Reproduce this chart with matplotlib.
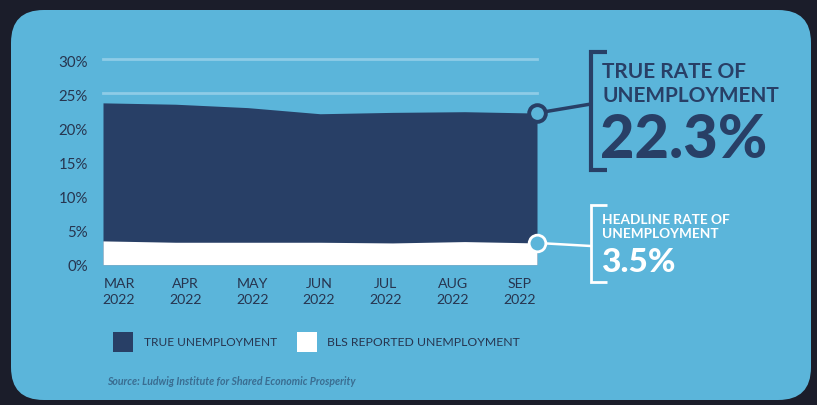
import numpy as np
import matplotlib.pyplot as plt
from matplotlib.patches import FancyBboxPatch, ConnectionPatch, Rectangle
from matplotlib.lines import Line2D

months = ['MAR', 'APR', 'MAY', 'JUN', 'JUL', 'AUG', 'SEP']
year = '2022'
true_rate = [23.8, 23.6, 23.1, 22.2, 22.4, 22.5, 22.3]
bls_rate = [3.5, 3.3, 3.3, 3.3, 3.2, 3.4, 3.2]
yticks = [0, 5, 10, 15, 20, 25, 30]
true_label = '22.3%'
bls_label = '3.5%'

W, H = 817, 406
bg = '#1b1d2a'
panel = '#5bb5da'
navy = '#283f66'
grid_c = '#8ecce7'
txt = '#27354f'

plt.rcParams['font.family'] = ['Lato', 'DejaVu Sans']

fig = plt.figure(figsize=(W / 100, H / 100), dpi=100)
fig.patch.set_facecolor(bg)


def fx(x):
    return x / W


def fy(y):
    return 1 - y / H


# rounded light-blue panel
fig.patches.append(FancyBboxPatch((fx(11), fy(401)), fx(800), (390) / H,
                                  boxstyle='round,pad=0,rounding_size=0.04',
                                  transform=fig.transFigure, facecolor=panel,
                                  edgecolor='none', mutation_aspect=W / H,
                                  zorder=-10))

# plot area: x 103..537 px, y 0% at 265.7 px, 30% at 61.7 px
ax = fig.add_axes([fx(103), fy(265.7), fx(537 - 103), (265.7 - 61.7) / H])
ax.set_facecolor('none')
x = np.arange(len(months))
ax.set_xlim(0, len(months) - 1)
ax.set_ylim(0, 30)

for g in [25, 30]:
    ax.axhline(g + 0.2, color=grid_c, lw=2, clip_on=False, zorder=1)

ax.fill_between(x, 0, true_rate, color=navy, lw=0, zorder=2)
ax.fill_between(x, 0, bls_rate, color='white', lw=0, zorder=3)

for s in ax.spines.values():
    s.set_visible(False)
ax.tick_params(length=0)
ax.set_yticks(yticks, [f'{v}%' for v in yticks], fontsize=10.8, color=txt)
ax.tick_params(axis='y', pad=11)
step = 66.7 / 72.33
ax.set_xticks((119 - 103) / 72.33 + step * x,
              [f'{m}\n{year}' for m in months], fontsize=10.2, color=txt,
              linespacing=1.35)
ax.tick_params(axis='x', pad=9)

# connectors and markers
ax.add_artist(ConnectionPatch(xyA=(x[-1], true_rate[-1]), coordsA=ax.transData,
                              xyB=(fx(591), fy(105)), coordsB=fig.transFigure,
                              color=navy, lw=2.5, zorder=4, clip_on=False))
ax.add_artist(ConnectionPatch(xyA=(x[-1], bls_rate[-1]), coordsA=ax.transData,
                              xyB=(fx(591), fy(247)), coordsB=fig.transFigure,
                              color='white', lw=1.8, zorder=4, clip_on=False))
ax.plot(x[-1], true_rate[-1], 'o', ms=12, mfc=panel, mec=navy, mew=2.8,
        clip_on=False, zorder=6)
ax.plot(x[-1], bls_rate[-1], 'o', ms=12, mfc=panel, mec='white', mew=2,
        clip_on=False, zorder=6)


def bracket(x0, y0, y1, color, lw):
    pts_x = [fx(x0 + 16), fx(x0), fx(x0), fx(x0 + 16)]
    pts_y = [fy(y0), fy(y0), fy(y1), fy(y1)]
    fig.lines.append(Line2D(pts_x, pts_y, transform=fig.transFigure, color=color,
                            lw=lw, solid_joinstyle='miter', solid_capstyle='butt'))


bracket(591, 53, 171, navy, 3)
bracket(591, 206, 283, 'white', 2)

fig.text(fx(602), fy(72), 'TRUE RATE OF', fontsize=15, fontweight='bold',
         color=navy, va='center')
fig.text(fx(602), fy(96), 'UNEMPLOYMENT', fontsize=15, fontweight='bold',
         color=navy, va='center')
fig.text(fx(600), fy(140), true_label, fontsize=43, fontweight='black',
         color=navy, va='center')

fig.text(fx(602), fy(220), 'HEADLINE RATE OF', fontsize=9.8, fontweight='bold',
         color='white', va='center')
fig.text(fx(602), fy(234), 'UNEMPLOYMENT', fontsize=9.8, fontweight='bold',
         color='white', va='center')
fig.text(fx(601), fy(263), bls_label, fontsize=24, fontweight='black',
         color='white', va='center')

# legend
fig.patches.append(Rectangle((fx(113), fy(353)), fx(20), 20 / H,
                             transform=fig.transFigure, facecolor=navy, edgecolor='none'))
fig.text(fx(144), fy(343), 'TRUE UNEMPLOYMENT', fontsize=8.6, color=txt, va='center')
fig.patches.append(Rectangle((fx(297), fy(353)), fx(20), 20 / H,
                             transform=fig.transFigure, facecolor='white', edgecolor='none'))
fig.text(fx(327), fy(343), 'BLS REPORTED UNEMPLOYMENT', fontsize=8.8, color=txt,
         va='center')

fig.text(fx(107), fy(382), 'Source: Ludwig Institute for Shared Economic Prosperity',
         fontsize=7.6, fontstyle='italic', fontweight='bold', color='#3a6d91',
         va='center')

fig.savefig('out.png', dpi=100, facecolor=bg)
